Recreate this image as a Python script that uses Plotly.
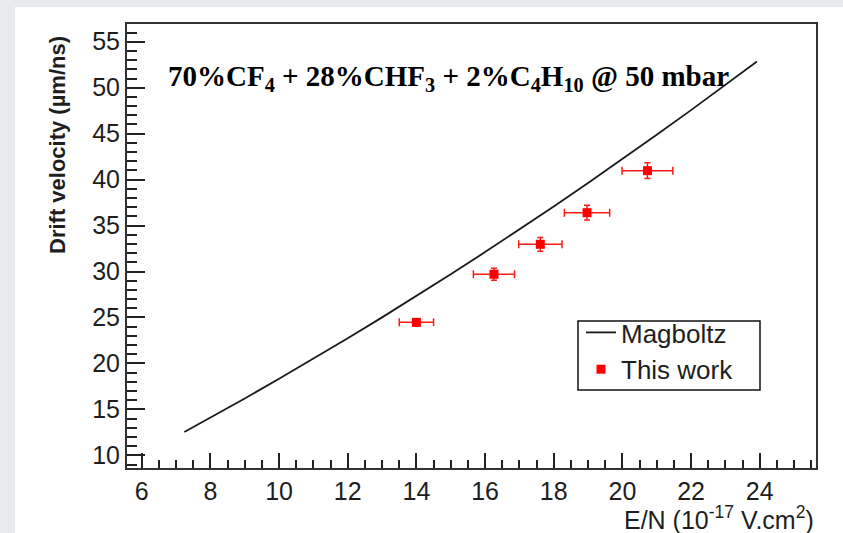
import plotly.graph_objects as go

# Magboltz simulation curve
mag_x = [7.24, 8, 9, 10, 11, 12, 13, 14, 15, 16, 17, 18, 19, 20, 21, 22, 23, 23.92]
mag_y = [12.54, 14.10, 16.19, 18.33, 20.51, 22.74, 25.01, 27.34, 29.70, 32.11,
         34.57, 37.08, 39.63, 42.23, 44.87, 47.56, 50.29, 52.85]

# Measured points ("This work")
meas_x = [14.0, 16.26, 17.61, 18.97, 20.73]
meas_y = [24.47, 29.7, 32.96, 36.4, 40.97]
meas_xerr = [0.5, 0.6, 0.63, 0.66, 0.74]
meas_yerr = [0.4, 0.65, 0.75, 0.8, 0.85]

x_ticks = [6, 8, 10, 12, 14, 16, 18, 20, 22, 24]
y_ticks = [10, 15, 20, 25, 30, 35, 40, 45, 50, 55]

SANS = "Liberation Sans, Arial, sans-serif"
SERIF = "Liberation Serif, Times New Roman, serif"

fig = go.Figure()
fig.add_trace(go.Scatter(
    x=mag_x, y=mag_y, mode="lines", name="Magboltz",
    line=dict(color="#1a1a1a", width=1.8),
))
fig.add_trace(go.Scatter(
    x=meas_x, y=meas_y, mode="markers", name="This work",
    marker=dict(symbol="square", size=9, color="#ff0000"),
    error_x=dict(type="data", array=meas_xerr, color="#ff1a1a", thickness=1.5, width=4),
    error_y=dict(type="data", array=meas_yerr, color="#ff1a1a", thickness=1.5, width=3),
))

L, R, T, B = 127, 27, 24, 65
W, H = 843, 533
pw, ph = W - L - R, H - T - B

def px(xp):
    return (xp - L) / pw

def py(yp):
    return (H - B - yp) / ph

fig.update_layout(
    width=W, height=H,
    margin=dict(l=L, r=R, t=T, b=B),
    paper_bgcolor="#e9eaee",
    plot_bgcolor="white",
    font=dict(family=SANS, color="#1e1e1e"),
    showlegend=True,
    legend=dict(
        x=px(581), y=py(309), xanchor="left", yanchor="top",
        bgcolor="rgba(0,0,0,0)", borderwidth=0,
        font=dict(family=SANS, size=26, color="#1e1e1e"),
        itemwidth=30, tracegroupgap=0,
    ),
    shapes=[
        dict(type="rect", xref="paper", yref="paper",
             x0=px(15), x1=px(845), y0=py(535), y1=py(7),
             fillcolor="white", line=dict(width=0), layer="below"),
        dict(type="rect", xref="paper", yref="paper",
             x0=px(578), x1=px(760), y0=py(390), y1=py(321),
             fillcolor="white", line=dict(width=1.5, color="#111"), layer="above"),
    ],
    annotations=[
        dict(text="<b>70%CF<sub>4</sub> + 28%CHF<sub>3</sub> + 2%C<sub>4</sub>H<sub>10</sub> @ 50 mbar</b>",
             xref="paper", yref="paper", x=px(166), y=py(78),
             xanchor="left", yanchor="middle", showarrow=False,
             font=dict(family=SERIF, size=29, color="black")),
        dict(text="<b>Drift velocity (µm/ns)</b>", textangle=-90,
             xref="paper", yref="paper", x=px(57), y=py(34),
             xanchor="center", yanchor="top", showarrow=False,
             font=dict(family=SANS, size=22, color="#1e1e1e")),
        dict(text="E/N (10<sup>-17</sup> V.cm<sup>2</sup>)",
             xref="paper", yref="paper", x=1.0, y=py(500),
             xanchor="right", yanchor="top", showarrow=False,
             font=dict(family=SANS, size=25, color="#1e1e1e")),
    ],
)

fig.update_xaxes(
    range=[5.57, 25.64], tickvals=x_ticks, ticktext=[str(v) for v in x_ticks],
    ticks="inside", ticklen=15, tickwidth=1.5, tickcolor="#222",
    minor=dict(dtick=0.5, tick0=6, ticks="inside", ticklen=8, tickwidth=1.5, tickcolor="#222"),
    showline=True, linecolor="#333", linewidth=2, mirror=True,
    showgrid=False, zeroline=False,
    tickfont=dict(family=SANS, size=25, color="#1e1e1e"),
)
fig.update_yaxes(
    range=[8.62, 56.93], tickvals=y_ticks, ticktext=[str(v) for v in y_ticks],
    ticks="inside", ticklen=18, tickwidth=1.5, tickcolor="#222",
    minor=dict(dtick=1, tick0=10, ticks="inside", ticklen=10, tickwidth=1.5, tickcolor="#222"),
    showline=True, linecolor="#333", linewidth=2, mirror=True,
    showgrid=False, zeroline=False,
    tickfont=dict(family=SANS, size=25, color="#1e1e1e"),
)

fig.write_html(
    "out.html",
    config={"displayModeBar": False},
    post_script="document.body.style.margin='0';document.body.style.background='#e9eaee';",
)
